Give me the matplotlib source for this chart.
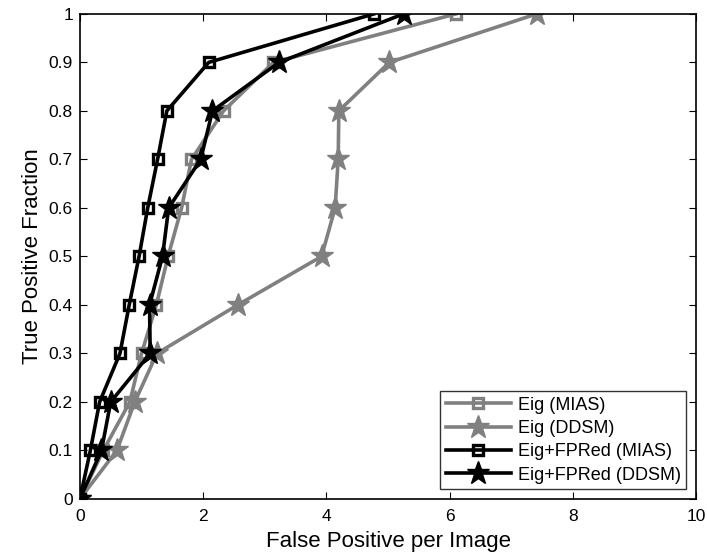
import matplotlib
matplotlib.use('Agg')
import matplotlib.pyplot as plt

plt.rcParams['font.family'] = ['Liberation Sans', 'DejaVu Sans']

# true positive fraction levels shared by all curves
tpf = [0, 0.1, 0.2, 0.3, 0.4, 0.5, 0.6, 0.7, 0.8, 0.9, 1.0]

# false positives per image
eig_mias = [0, 0.38, 0.81, 1.00, 1.24, 1.43, 1.65, 1.81, 2.33, 3.14, 6.10]
eig_ddsm = [0, 0.60, 0.89, 1.25, 2.56, 3.92, 4.14, 4.19, 4.20, 5.02, 7.41]
fpred_mias = [0, 0.17, 0.32, 0.65, 0.80, 0.96, 1.10, 1.26, 1.41, 2.09, 4.77]
fpred_ddsm = [0, 0.35, 0.50, 1.14, 1.13, 1.34, 1.44, 1.96, 2.15, 3.23, 5.25]

labels = ['Eig (MIAS)', 'Eig (DDSM)', 'Eig+FPRed (MIAS)', 'Eig+FPRed (DDSM)']

fig = plt.figure(figsize=(7.07, 5.55), dpi=100)
ax = fig.add_axes([0.113, 0.101, 0.872, 0.874])

gray = '#808080'
ax.plot(eig_mias, tpf, color=gray, lw=2.6, marker='s', ms=7, mfc='none', mew=2.4, label=labels[0])
ax.plot(eig_ddsm, tpf, color=gray, lw=2.6, marker='*', ms=17, label=labels[1])
ax.plot(fpred_mias, tpf, color='k', lw=2.6, marker='s', ms=7, mfc='none', mew=2.4, label=labels[2])
ax.plot(fpred_ddsm, tpf, color='k', lw=2.6, marker='*', ms=17, label=labels[3])

ax.set_xlim(0, 10)
ax.set_ylim(0, 1)
ax.set_xticks([0, 2, 4, 6, 8, 10])
ax.set_yticks(tpf)
ax.set_yticklabels(['0', '0.1', '0.2', '0.3', '0.4', '0.5', '0.6', '0.7', '0.8', '0.9', '1'])
ax.tick_params(direction='in', top=True, right=True, labelsize=12.5, length=5)
ax.tick_params(axis='x', pad=7.5)
ax.tick_params(axis='y', pad=5)
for s in ax.spines.values():
    s.set_linewidth(1.2)

ax.set_xlabel('False Positive per Image', fontsize=16, labelpad=5)
ax.set_ylabel('True Positive Fraction', fontsize=16, labelpad=4)

leg = ax.legend(loc='lower right', fontsize=13, fancybox=False, edgecolor='k',
                handlelength=3.6, borderaxespad=0.55, labelspacing=0.35,
                borderpad=0.3, handletextpad=0.4)
leg.get_frame().set_linewidth(1.0)

fig.savefig('out.png', dpi=100)
